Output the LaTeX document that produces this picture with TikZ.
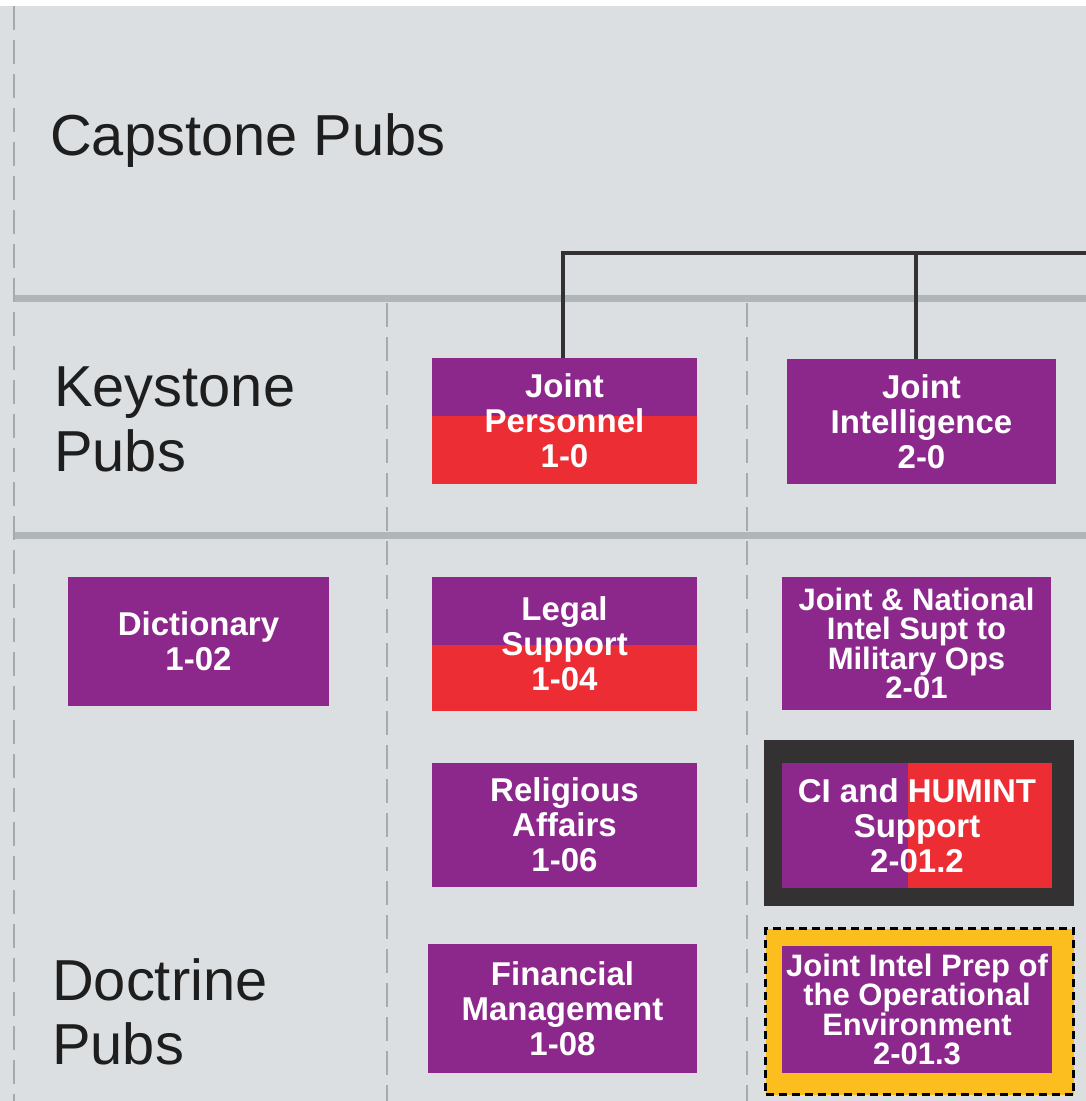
\documentclass[tikz,border=0pt]{standalone}
\usepackage{fontspec}
\setmainfont{Liberation Sans}
\usetikzlibrary{calc}
\definecolor{bgray}{RGB}{219,223,225}
\definecolor{sepgray}{RGB}{176,181,184}
\definecolor{dashgray}{RGB}{165,170,173}
\definecolor{jpurple}{RGB}{140,40,140}
\definecolor{jred}{RGB}{237,45,52}
\definecolor{jdark}{RGB}{51,49,50}
\definecolor{jyellow}{RGB}{252,190,30}
\definecolor{inkblack}{RGB}{30,30,30}
\begin{document}
\begin{tikzpicture}[x=1pt,y=-1pt,
  pubbox/.style={rectangle, inner sep=0pt, fill=jpurple, text=white, align=center,
    font=\fontsize{33}{35}\selectfont\bfseries},
  tightbox/.style={pubbox, font=\fontsize{31}{29.5}\selectfont\bfseries},
  redlow/.style={path picture={\fill[jred]
      ($(path picture bounding box.south west)!#1!(path picture bounding box.north west)$)
      rectangle (path picture bounding box.south east);}},
  redright/.style={path picture={\fill[jred]
      ($(path picture bounding box.south west)!#1!(path picture bounding box.south east)$)
      rectangle (path picture bounding box.north east);}},
  rowlabel/.style={anchor=base west, inner sep=0pt, text=inkblack, align=left,
    font=\fontsize{57.8}{64.5}\selectfont},
  separator/.style={draw=sepgray, line width=7pt},
  colline/.style={draw=dashgray, line width=2.5pt, dash pattern=on 24pt off 10pt},
  link/.style={draw=jdark, line width=4pt}
]
\useasboundingbox (0,0) rectangle (1086,1101);
% background panel
\fill[white] (0,0) rectangle (1086,1101);
\fill[bgray] (0,6) rectangle (1086,1101);

% row separators and column guides
\draw[separator] (14,298) -- (1086,298);
\draw[separator] (14,535) -- (1086,535);
\draw[colline] (14,6) -- (14,1101);
\draw[colline] (387,303) -- (387,1101);
\draw[colline] (747,303) -- (747,1101);

% row labels
\node[rowlabel] (capstone) at (50,155) {Capstone Pubs};
\node[rowlabel, anchor=north west] (keystone) at (54,367) {Keystone\\Pubs};
\node[rowlabel, anchor=north west] (doctrine) at (52,958) {Doctrine\\Pubs};

% keystone publications
\node[pubbox, redlow=0.54, minimum width=265, minimum height=126] (jp) at (564.5,421)
  {Joint\\Personnel\\1-0};
\node[pubbox, minimum width=269, minimum height=125] (ji) at (921.5,421.5)
  {Joint\\Intelligence\\2-0};

% doctrine publications
\node[pubbox, minimum width=261, minimum height=129] (dict) at (198.5,641.5)
  {Dictionary\\1-02};
\node[pubbox, redlow=0.49, minimum width=265, minimum height=134] (legal) at (564.5,644)
  {Legal\\Support\\1-04};
\node[pubbox, minimum width=265, minimum height=124] (relig) at (564.5,825)
  {Religious\\Affairs\\1-06};
\node[pubbox, minimum width=269, minimum height=129] (fin) at (562.5,1008.5)
  {Financial\\Management\\1-08};
\node[tightbox, minimum width=269, minimum height=133] (jnis) at (916.5,643.5)
  {Joint \& National\\Intel Supt to\\Military Ops\\2-01};

% highlighted publications
\node[rectangle, fill=jdark, inner sep=0pt, minimum width=310, minimum height=166] (ciframe)
  at (919,823) {};
\node[pubbox, redright=0.467, minimum width=270, minimum height=125] (ci) at (917,825.5)
  {CI and HUMINT\\Support\\2-01.2};
\node[rectangle, fill=jyellow, draw=black, line width=3pt, dash pattern=on 8pt off 5pt,
  inner sep=0pt, minimum width=308, minimum height=166] (jipframe) at (919.5,1011.5) {};
\node[tightbox, minimum width=270, minimum height=127] (jipoe) at (917,1009.5)
  {Joint Intel Prep of\\the Operational\\Environment\\2-01.3};

% hierarchy links from the capstone level
\coordinate (busend) at (1086,253);
\draw[link] ([xshift=-1.5pt]jp.north) |- (busend);
\draw[link] ([xshift=-5.5pt]ji.north) -- ([xshift=-5.5pt]ji.north |- busend);
\end{tikzpicture}
\end{document}
